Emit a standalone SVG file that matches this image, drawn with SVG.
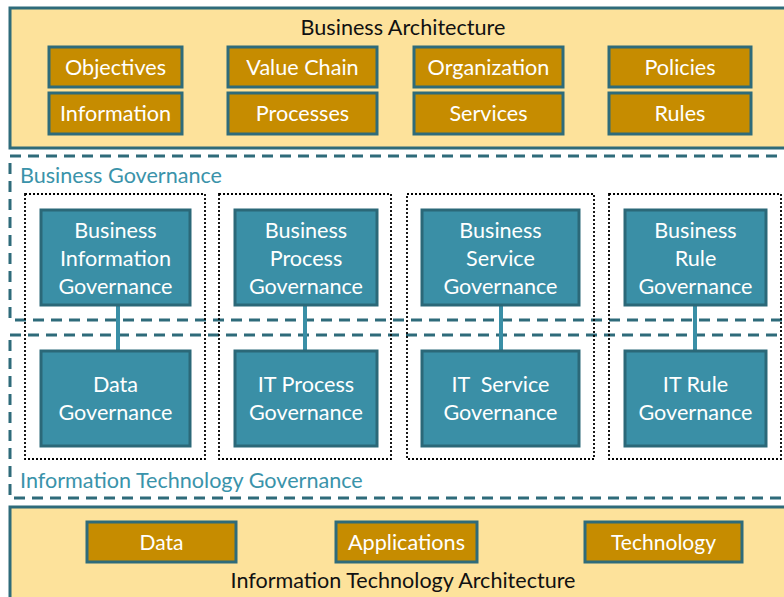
<svg xmlns="http://www.w3.org/2000/svg" width="784" height="597" viewBox="0 0 784 597">
<style>
.arch{fill:#FDE29B;stroke:#2E6B7A;stroke-width:3}
.gold{fill:#C68C00;stroke:#2E6B7A;stroke-width:3}
.teal{fill:#3A8FA6;stroke:#2B6878;stroke-width:3}
.dash{fill:none;stroke:#2E6B7A;stroke-width:3;stroke-dasharray:11 7}
.dot{fill:none;stroke:#000;stroke-width:1.8;stroke-dasharray:2 2}
.conn{stroke:#3A8FA6;stroke-width:4;fill:none}
text{font-family:Lato,"Liberation Sans",sans-serif;font-size:21.6px}
.w{fill:#fff;text-anchor:middle}
.k{fill:#111;text-anchor:middle}
.lbl{fill:#3A93AA}
</style>
<rect x="0" y="0" width="784" height="597" fill="#fff"/>
<g id="business-architecture">
<rect class="arch" x="10" y="8" width="780" height="140"/>
<text class="k" x="403" y="35">Business Architecture</text>
</g>
<g id="objectives"><rect class="gold" x="49" y="47" width="133" height="40"/><text class="w" x="115.5" y="75">Objectives</text></g>
<g id="information"><rect class="gold" x="49" y="93" width="133" height="41"/><text class="w" x="115.5" y="121">Information</text></g>
<g id="value-chain"><rect class="gold" x="228" y="47" width="149" height="40"/><text class="w" x="302.5" y="75">Value Chain</text></g>
<g id="processes"><rect class="gold" x="228" y="93" width="149" height="41"/><text class="w" x="302.5" y="121">Processes</text></g>
<g id="organization"><rect class="gold" x="414" y="47" width="149" height="40"/><text class="w" x="488.5" y="75">Organization</text></g>
<g id="services"><rect class="gold" x="414" y="93" width="149" height="41"/><text class="w" x="488.5" y="121">Services</text></g>
<g id="policies"><rect class="gold" x="609" y="47" width="142" height="40"/><text class="w" x="680" y="75">Policies</text></g>
<g id="rules"><rect class="gold" x="609" y="93" width="142" height="41"/><text class="w" x="680" y="121">Rules</text></g>

<g id="business-governance">
<rect class="dash" x="10" y="156" width="790" height="164"/>
<text class="lbl" x="20" y="183">Business Governance</text>
</g>
<g id="it-governance">
<rect class="dash" x="10" y="335" width="790" height="163"/>
<text class="lbl" x="20" y="488">Information Technology Governance</text>
</g>

<g id="pairs">
<rect class="dot" x="25" y="194" width="180" height="265"/>
<rect class="dot" x="219" y="194" width="172" height="265"/>
<rect class="dot" x="407" y="194" width="187" height="265"/>
<rect class="dot" x="609" y="194" width="172" height="265"/>
</g>

<g id="connectors">
<line class="conn" x1="118" y1="305" x2="118" y2="351"/>
<line class="conn" x1="305" y1="305" x2="305" y2="351"/>
<line class="conn" x1="501" y1="305" x2="501" y2="351"/>
<line class="conn" x1="695" y1="305" x2="695" y2="351"/>
</g>

<g id="business-information-governance"><rect class="teal" x="41" y="210" width="149" height="95"/><text class="w" x="115.5" y="238">Business</text><text class="w" x="115.5" y="266">Information</text><text class="w" x="115.5" y="294">Governance</text></g>
<g id="business-process-governance"><rect class="teal" x="235" y="210" width="142" height="95"/><text class="w" x="306" y="238">Business</text><text class="w" x="306" y="266">Process</text><text class="w" x="306" y="294">Governance</text></g>
<g id="business-service-governance"><rect class="teal" x="422" y="210" width="157" height="95"/><text class="w" x="500.5" y="238">Business</text><text class="w" x="500.5" y="266">Service</text><text class="w" x="500.5" y="294">Governance</text></g>
<g id="business-rule-governance"><rect class="teal" x="625" y="210" width="141" height="95"/><text class="w" x="695.5" y="238">Business</text><text class="w" x="695.5" y="266">Rule</text><text class="w" x="695.5" y="294">Governance</text></g>

<g id="data-governance"><rect class="teal" x="41" y="351" width="149" height="95"/><text class="w" x="115.5" y="392">Data</text><text class="w" x="115.5" y="420">Governance</text></g>
<g id="it-process-governance"><rect class="teal" x="235" y="351" width="142" height="95"/><text class="w" x="306" y="392">IT Process</text><text class="w" x="306" y="420">Governance</text></g>
<g id="it-service-governance"><rect class="teal" x="422" y="351" width="157" height="95"/><text class="w" x="500.5" y="392" xml:space="preserve">IT  Service</text><text class="w" x="500.5" y="420">Governance</text></g>
<g id="it-rule-governance"><rect class="teal" x="625" y="351" width="141" height="95"/><text class="w" x="695.5" y="392">IT Rule</text><text class="w" x="695.5" y="420">Governance</text></g>

<g id="it-architecture">
<rect class="arch" x="10" y="507" width="780" height="100"/>
<text class="k" x="403" y="588" textLength="345" lengthAdjust="spacingAndGlyphs">Information Technology Architecture</text>
</g>
<g id="data"><rect class="gold" x="87" y="522" width="149" height="40"/><text class="w" x="161.5" y="550" textLength="44" lengthAdjust="spacingAndGlyphs">Data</text></g>
<g id="applications"><rect class="gold" x="336" y="522" width="141" height="40"/><text class="w" x="406.5" y="550" textLength="117" lengthAdjust="spacingAndGlyphs">Applications</text></g>
<g id="technology"><rect class="gold" x="585" y="522" width="157" height="40"/><text class="w" x="663.5" y="550" textLength="105" lengthAdjust="spacingAndGlyphs">Technology</text></g>
</svg>
